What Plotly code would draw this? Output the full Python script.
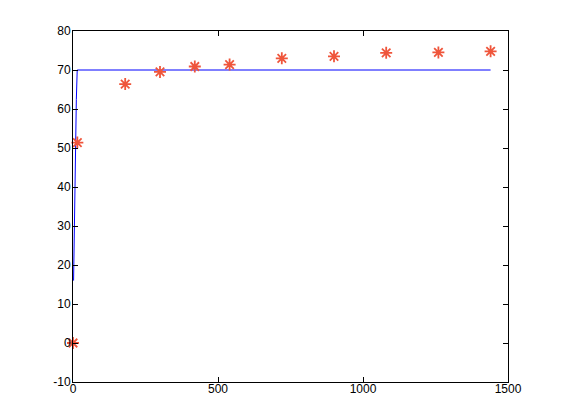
import plotly.graph_objects as go

# measured data (red asterisks)
t_data = [0, 15, 180, 300, 420, 540, 720, 900, 1080, 1260, 1440]
y_data = [0, 51.4, 66.4, 69.5, 70.9, 71.4, 73.0, 73.5, 74.4, 74.5, 74.8]

# model curve (blue line)
t_model = [2, 4.5, 8, 11.5, 14.5, 1440]
y_model = [16, 31.3, 47, 62.4, 70, 70]

x_ticks = [0, 500, 1000, 1500]
y_ticks = [-10, 0, 10, 20, 30, 40, 50, 60, 70, 80]

fig = go.Figure()
fig.add_trace(go.Scatter(x=t_model, y=y_model, mode="lines",
                         line=dict(color="#0000ff", width=1), showlegend=False,
                         hoverinfo="skip"))
fig.add_trace(go.Scatter(x=t_data, y=y_data, mode="markers",
                         marker=dict(symbol="asterisk-open", size=10,
                                     line=dict(color="#ff0000", width=1.8)),
                         showlegend=False, cliponaxis=False))

axis_common = dict(showgrid=False, zeroline=False, showline=True, linecolor="black",
                   linewidth=1, mirror="ticks", ticks="inside", ticklen=5,
                   tickcolor="black", automargin=False,
                   tickfont=dict(family="Liberation Sans, Arial", size=12, color="black"))

fig.update_xaxes(range=[0, 1500], tickvals=x_ticks, ticktext=[str(v) for v in x_ticks],
                 ticklabelstandoff=-4, **axis_common)
fig.update_yaxes(range=[-10, 80], tickvals=y_ticks, ticktext=[str(v) for v in y_ticks],
                 ticklabelstandoff=-1, **axis_common)

# page body has an 8px default margin, so the figure is offset by 8px
fig.update_layout(width=553, height=412, paper_bgcolor="white", plot_bgcolor="white",
                  margin=dict(l=65, r=53, t=23, b=38, pad=0))

fig.write_html("out.html")
